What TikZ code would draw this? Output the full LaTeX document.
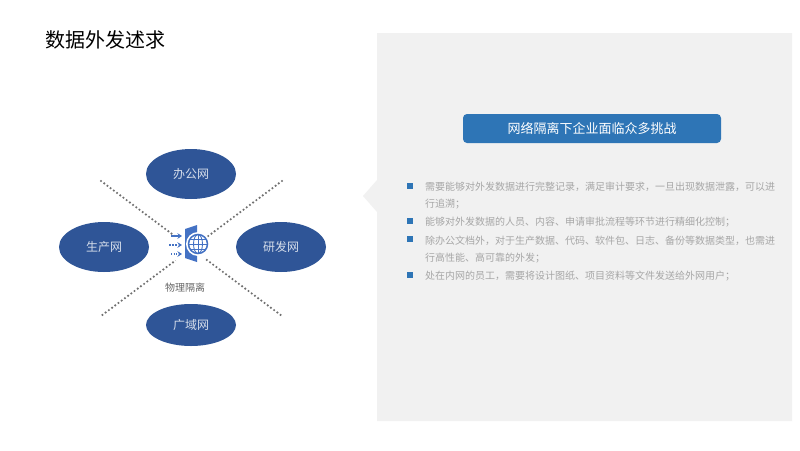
\documentclass[tikz,border=0pt]{standalone}
\usepackage{fontspec}
\setmainfont{Noto Sans CJK SC}
\usetikzlibrary{arrows.meta,shapes.geometric}
\definecolor{panelgray}{HTML}{F1F1F1}
\definecolor{netblue}{HTML}{2F5597}
\definecolor{headblue}{HTML}{2E75B6}
\definecolor{iconblue}{HTML}{4472C4}
\definecolor{bodygray}{HTML}{A6A6A6}
\definecolor{dotgray}{HTML}{707070}
\tikzset{
  x=1pt,y=-1pt,
  net/.style={ellipse,fill=netblue,minimum width=90pt,minimum height=50pt,inner sep=0pt,text=white!80!netblue,font=\fontsize{12}{12}\selectfont},
  dotline/.style={draw=dotgray,line width=2.4pt,line cap=round,dash pattern=on 0pt off 4pt},
  bodyline/.style={anchor=west,inner sep=0pt,text=bodygray,font=\fontsize{10}{10}\selectfont},
  bulletbox/.style={fill=headblue,minimum size=6pt,inner sep=0pt},
  flow/.style={draw=iconblue,line width=1.2pt,-{Stealth[length=4.5pt,width=5.5pt]}},
}
\begin{document}
\begin{tikzpicture}
\useasboundingbox (0,0) rectangle (800,450);
\fill[white] (0,0) rectangle (800,450);
% panel
\fill[panelgray] (377,33) -- (792,33) -- (792,421) -- (377,421) -- (377,212) -- (363,196) -- (377,180) -- cycle;
% title
\node[anchor=west,inner sep=0pt,font=\fontsize{20}{20}\selectfont] (title) at (45,40) {数据外发述求};
% dotted lines
\coordinate (tl) at (101,181);
\coordinate (br) at (282,316);
\coordinate (tr) at (282,181);
\coordinate (bl) at (101,316);
\draw[dotline] (tl) -- (br);
\draw[dotline] (tr) -- (bl);
% networks
\node[net] (office) at (191,174) {办公网};
\node[net] (prod) at (104,247) {生产网};
\node[net] (rd) at (281,247) {研发网};
\node[net,minimum height=42pt] (wan) at (191,325) {广域网};
% icon
\fill[white] (190,248) circle (19);
\fill[iconblue] (185,229) -- (197,225) -- (197,262) -- (185,258) -- cycle;
\fill[white] (198,244) circle (12);
\draw[iconblue,line width=1.5pt] (198,244) circle (9.5);
\draw[iconblue,line width=0.9pt] (198,244) ellipse (4.5 and 9.5);
\draw[iconblue,line width=0.9pt] (188.5,244) -- (207.5,244);
\draw[iconblue,line width=0.9pt] (190,239) -- (206,239);
\draw[iconblue,line width=0.9pt] (190,249) -- (206,249);
\draw[iconblue,line width=0.9pt] (198,234.5) -- (198,253.5);
\coordinate (a1s) at (171,236); \coordinate (a1e) at (182,236);
\coordinate (a2s) at (169,245); \coordinate (a2e) at (182,245);
\coordinate (a3s) at (171,254); \coordinate (a3e) at (182,254);
\draw[flow] (a1s) -- (a1e);
\draw[flow,dash pattern=on 2pt off 1.2pt] (a2s) -- (a2e);
\draw[flow,dash pattern=on 1.2pt off 1.4pt] (a3s) -- (a3e);
\node[inner sep=0pt,text=black!60,font=\fontsize{10}{10}\selectfont] (iso) at (185,288) {物理隔离};
% header
\node[fill=headblue,rounded corners=4pt,minimum width=258pt,minimum height=29pt,inner sep=0pt,text=white,font=\fontsize{13}{13}\selectfont] (head) at (592,128.5) {网络隔离下企业面临众多挑战};
% bullets
\node[bulletbox] (b1) at (410,186) {};
\node[bulletbox] (b2) at (410,221) {};
\node[bulletbox] (b3) at (410,239) {};
\node[bulletbox] (b4) at (410,275) {};
\node[bodyline] (l1) at (425,186.5) {需要能够对外发数据进行完整记录，满足审计要求，一旦出现数据泄露，可以进};
\node[bodyline] (l2) at (425,204) {行追溯；};
\node[bodyline] (l3) at (425,222.5) {能够对外发数据的人员、内容、申请审批流程等环节进行精细化控制；};
\node[bodyline] (l4) at (425,240.5) {除办公文档外，对于生产数据、代码、软件包、日志、备份等数据类型，也需进};
\node[bodyline] (l5) at (425,258) {行高性能、高可靠的外发；};
\node[bodyline] (l6) at (425,276.5) {处在内网的员工，需要将设计图纸、项目资料等文件发送给外网用户；};
\end{tikzpicture}
\end{document}
